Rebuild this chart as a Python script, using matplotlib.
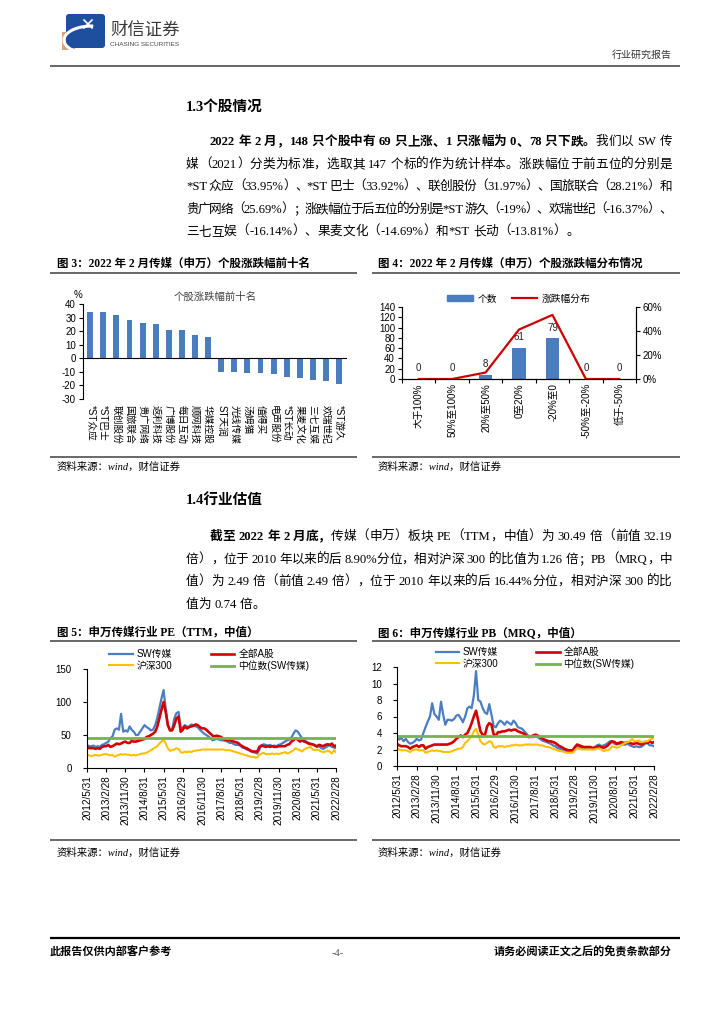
import re
import numpy as np
import pandas as pd
import matplotlib
matplotlib.use('Agg')
import matplotlib.pyplot as plt
from matplotlib.patches import Rectangle, FancyBboxPatch, Arc, Patch
from matplotlib.lines import Line2D
from matplotlib.ticker import PercentFormatter

W, H = 724, 1024
SERIF = ['Liberation Serif', 'Noto Sans CJK SC']
SANS = ['Liberation Sans', 'Noto Sans CJK SC']
plt.rcParams['font.family'] = SANS
plt.rcParams['axes.unicode_minus'] = False

# ---- 图3 个股涨跌幅 ----
stock_names = ['*ST众应', '*ST巴士', '联创股份', '国旅联合', '贵广网络', '返利科技', '广博股份',
               '每日互动', '顺网科技', '华媒控股', 'ST天润', '光线传媒', '汤姆猫', '值得买',
               '电声股份', '*ST长动', '果麦文化', '三七互娱', '欢瑞世纪', '*ST游久']
stock_chg = [33.95, 33.92, 31.97, 28.21, 25.69, 25.5, 20.6, 20.6, 17.2, 16.0,
             -10.3, -10.4, -10.8, -10.9, -11.8, -13.81, -14.69, -16.14, -16.37, -19.0]

# ---- 图4 涨跌幅分布 ----
dist_labels = ['大于100%', '50%至100%', '20%至50%', '0至20%', '-20%至0', '-50%至-20%', '低于-50%']
dist_count = [0, 0, 8, 61, 79, 0, 0]
dist_pct = [0.0, 0.0, 5.4, 41.2, 53.4, 0.0, 0.0]

# ---- 图5 PE(TTM) 月度, 2012/5 - 2022/2 ----
pe_sw = [35, 33, 33, 34, 32, 33, 32, 35,
         36, 38, 40, 45, 48, 58, 60, 58, 82, 55, 57, 55,
         63, 58, 55, 50, 50, 55, 60, 65, 62, 60, 57, 58,
         65, 75, 90, 105, 118, 90, 65, 57, 58, 75, 83, 85,
         58, 62, 65, 62, 63, 66, 65, 63, 62, 58, 55, 52,
         50, 48, 45, 42, 43, 44, 43, 42, 42, 41, 40, 38,
         38, 36, 35, 35, 34, 31, 30, 28, 27, 25, 24, 23,
         22, 28, 34, 36, 35, 34, 35, 33, 34, 33, 35, 36,
         38, 40, 42, 43, 46, 52, 57, 55, 50, 45, 43, 40,
         38, 37, 36, 35, 32, 33, 30, 29, 31, 33, 35, 32,
         31, 30]
pe_all = [32, 30, 30, 30, 29, 30, 29, 32,
          33, 33, 35, 32, 33, 35, 37, 36, 37, 39, 40, 38,
          38, 41, 40, 40, 41, 42, 43, 44, 47, 48, 50, 52,
          55, 62, 75, 88, 100, 85, 65, 57, 57, 65, 75, 78,
          55, 58, 63, 60, 62, 63, 64, 66, 65, 62, 60, 60,
          58, 55, 52, 49, 48, 49, 48, 47, 44, 43, 42, 42,
          41, 40, 39, 38, 35, 33, 31, 30, 28, 26, 25, 25,
          25, 32, 34, 33, 32, 33, 32, 33, 32, 32, 33, 33,
          33, 33, 35, 36, 40, 42, 45, 43, 40, 42, 40, 39,
          37, 36, 36, 34, 33, 35, 34, 33, 35, 36, 35, 37,
          33, 34]
pe_hs300 = [21, 19, 18, 19, 20, 19, 19, 20,
            21, 21, 20, 19, 20, 17, 19, 20, 21, 20, 21, 20,
            20, 19, 20, 19, 20, 21, 22, 22, 23, 25, 27, 29,
            31, 33, 37, 40, 43, 37, 30, 26, 27, 28, 30, 29,
            24, 23, 25, 24, 25, 24, 26, 26, 27, 27, 28, 28,
            28, 28, 28, 28, 28, 28, 28, 28, 28, 27, 27, 27,
            26, 25, 24, 23, 22, 21, 20, 19, 18, 17, 17, 16,
            16, 20, 22, 23, 21, 21, 21, 22, 21, 22, 21, 22,
            23, 24, 22, 23, 25, 27, 30, 28, 27, 25, 28, 30,
            31, 32, 28, 27, 28, 27, 25, 24, 25, 26, 25, 22,
            27, 24]
pe_median = 45.6

# ---- 图6 PB(MRQ) ----
pb_sw = [3.4, 3.2, 3.4, 3.0, 3.3, 2.9, 2.7, 2.8,
         3.0, 3.3, 3.1, 3.2, 4.0, 4.7, 5.4, 6.0, 7.6, 6.3, 6.0, 5.6,
         7.8, 6.3, 5.0, 5.6, 5.6, 5.5, 5.7, 6.1, 6.2, 5.8, 5.3, 6.0,
         7.0, 7.2, 7.0, 8.5, 11.5, 8.0, 7.8, 7.0, 6.5, 6.3, 7.5, 6.2,
         4.8, 4.7, 5.2, 5.5, 5.3, 5.0, 5.4, 5.2, 5.0, 5.5, 5.2, 4.7,
         4.6, 4.5, 4.2, 3.9, 3.6, 3.5, 3.5, 3.6, 3.5, 3.3, 3.1, 3.0,
         2.9, 2.8, 2.7, 2.5, 2.4, 2.2, 2.1, 2.0, 1.9, 1.8, 1.8, 1.7,
         1.7, 2.3, 2.4, 2.3, 2.2, 2.1, 2.2, 2.1, 2.1, 2.1, 2.3, 2.5,
         2.6, 2.4, 2.5, 2.6, 2.8, 3.0, 2.9, 2.7, 2.6, 2.7, 2.7, 2.6,
         2.6, 2.7, 2.5, 2.4, 2.3, 2.4, 2.3, 2.3, 2.5, 2.7, 2.8, 2.5,
         2.5, 2.4]
pb_all = [2.7, 2.5, 2.4, 2.4, 2.4, 2.3, 2.1, 2.3,
          2.4, 2.5, 2.3, 2.5, 2.5, 2.1, 2.3, 2.4, 2.5, 2.6, 2.6, 2.6,
          2.6, 2.6, 2.6, 2.6, 2.7, 2.8, 3.0, 3.3, 3.5, 3.7, 3.5, 3.8,
          4.0, 4.5, 5.2, 6.0, 6.7, 5.5, 4.2, 3.8, 3.7, 4.8, 5.2, 5.0,
          3.8, 3.7, 4.1, 4.1, 4.2, 4.2, 4.3, 4.4, 4.3, 4.4, 4.4, 4.2,
          4.1, 4.0, 3.9, 3.6, 3.5, 3.6, 3.7, 3.8, 3.7, 3.5, 3.4, 3.2,
          3.1, 3.0, 3.0, 2.9, 2.8, 2.6, 2.4, 2.3, 2.1, 2.0, 1.9, 1.9,
          1.9, 2.3, 2.6, 2.5, 2.4, 2.3, 2.3, 2.3, 2.3, 2.2, 2.2, 2.3,
          2.4, 2.3, 2.2, 2.3, 2.5, 2.8, 3.0, 2.9, 2.7, 2.8, 2.9, 2.8,
          2.8, 2.9, 2.8, 2.7, 2.7, 2.8, 2.7, 2.6, 2.7, 2.9, 2.8, 3.0,
          2.8, 2.9]
pb_hs300 = [2.2, 2.0, 1.9, 1.9, 1.9, 1.8, 1.7, 1.9,
            2.0, 2.0, 1.9, 1.9, 1.9, 1.6, 1.7, 1.8, 1.9, 1.8, 1.9, 1.8,
            1.8, 1.7, 1.7, 1.7, 1.7, 1.8, 1.9, 2.0, 2.1, 2.1, 2.3, 2.8,
            3.0, 3.3, 3.6, 4.2, 4.5, 3.8, 3.0, 2.7, 2.6, 2.8, 3.0, 2.9,
            2.3, 2.2, 2.4, 2.4, 2.4, 2.3, 2.4, 2.4, 2.5, 2.5, 2.6, 2.5,
            2.5, 2.5, 2.6, 2.6, 2.6, 2.6, 2.6, 2.6, 2.6, 2.5, 2.5, 2.4,
            2.3, 2.3, 2.2, 2.1, 2.0, 1.9, 1.8, 1.8, 1.7, 1.6, 1.6, 1.6,
            1.6, 1.9, 2.1, 2.1, 2.0, 2.0, 2.0, 2.0, 2.0, 2.0, 2.0, 2.1,
            2.1, 2.0, 1.8, 1.9, 1.9, 2.1, 2.4, 2.3, 2.2, 2.3, 2.5, 2.7,
            2.8, 2.9, 3.0, 3.3, 3.0, 3.0, 3.1, 2.9, 2.9, 3.0, 3.0, 3.2,
            3.3, 3.4]
pb_median = 3.6

months = pd.date_range('2012-05-01', '2022-02-01', freq='MS') + pd.offsets.MonthEnd(0)
tick_dates = months[::9]
tick_labels = [f'{d.year}/{d.month}/{d.day}' for d in tick_dates]

BAR_BLUE = '#4A7DBD'
C_SW = '#4A7EC2'
C_ALL = '#D40000'
C_HS = '#FFC000'
C_MED = '#78B24A'

fig = plt.figure(figsize=(W / 100, H / 100), dpi=100)
page = fig.add_axes([0, 0, 1, 1])
page.set_xlim(0, W)
page.set_ylim(H, 0)
page.axis('off')
renderer = fig.canvas.get_renderer()


def px_axes(left, top, right, bottom):
    return fig.add_axes([left / W, 1 - bottom / H, (right - left) / W, (bottom - top) / H])


def put(x, y, s, size, bold=False, ha='left', family=SERIF, **kw):
    return page.text(x, y, s, fontsize=size, fontweight='bold' if bold else 'normal',
                     ha=ha, va='baseline', family=family, **kw)


def para_line(x0, x1, y, segs, size=9.1, justify=True):
    toks = []
    for s, b in segs:
        for t in re.findall(r'[!-~]+| |[^ -~]', s):
            toks.append((t, b))
    arts = [put(0, y, t, size, bold=b) for t, b in toks]
    widths = [a.get_window_extent(renderer).width for a in arts]
    gap = (x1 - x0 - sum(widths)) / (len(arts) - 1) if justify else 0.0
    x = x0
    for a, w in zip(arts, widths):
        a.set_x(x)
        x += w + gap


def hline(x0, x1, y, color='#404040', lw=1.1):
    page.plot([x0, x1], [y, y], color=color, lw=lw, solid_capstyle='butt')


# ---- 页眉 ----
page.add_patch(Rectangle((62, 32), 13, 18, color='#D9A47E', lw=0))
page.add_patch(FancyBboxPatch((66, 14), 39, 34, boxstyle='round,pad=0,rounding_size=3',
                              color='#1D4F9E', lw=0))
page.add_patch(Arc((92, 40), 56, 28, theta1=95, theta2=275, color='white', lw=2.2))
page.plot([84, 92], [20, 28], color='white', lw=1.2)
page.plot([84, 92], [28, 20], color='white', lw=1.2)
put(110, 35, '财信证券', 12.5, family=['Noto Sans CJK SC'], color='#3A3A3A')
put(110, 46, 'CHASING SECURITIES', 4.6, family=['Liberation Sans'], color='#444444')
put(672, 58, '行业研究报告', 7.2, ha='right', color='#333333')
hline(50, 680, 66, color='#666666', lw=1.4)

# ---- 1.3 ----
put(186, 111, '1.3个股情况', 10.5, bold=True)
para_line(210, 672, 145, [('2022 年 2 月，148 只个股中有 69 只上涨、1 只涨幅为 0、78 只下跌。', True),
                          ('我们以 SW 传', False)])
para_line(186, 672, 168, [('媒（2021）分类为标准，选取其 147 个标的作为统计样本。涨跌幅位于前五位的分别是', False)])
para_line(186, 672, 190, [('*ST 众应（33.95%）、*ST 巴士（33.92%）、联创股份（31.97%）、国旅联合（28.21%）和', False)])
para_line(186, 672, 213, [('贵广网络（25.69%）；涨跌幅位于后五位的分别是*ST 游久（-19%）、欢瑞世纪（-16.37%）、', False)])
para_line(186, 672, 235, [('三七互娱（-16.14%）、果麦文化（-14.69%）和*ST 长动（-13.81%）。', False)], justify=False)

put(57, 267, '图 3：2022 年 2 月传媒（申万）个股涨跌幅前十名', 8.3, bold=True)
put(378, 267, '图 4：2022 年 2 月传媒（申万）个股涨跌幅分布情况', 8.3, bold=True)
hline(50, 357, 273)
hline(372, 680, 273)
hline(50, 357, 457)
hline(372, 680, 457)
put(57, 470, '资料来源：wind，财信证券', 7.5, style='italic')
put(378, 470, '资料来源：wind，财信证券', 7.5, style='italic')

# ---- 图3 ----
ax3 = px_axes(83, 304, 347, 399)
xs = np.arange(len(stock_names))
ax3.bar(xs, stock_chg, width=0.45, color=BAR_BLUE, zorder=2)
ax3.axhline(0, color='black', lw=0.8, zorder=3)
ax3.set_xlim(-0.55, len(xs) - 0.4)
ax3.set_ylim(-30, 40)
ax3.set_yticks(range(-30, 41, 10))
for s in ['top', 'right', 'bottom']:
    ax3.spines[s].set_visible(False)
ax3.spines['left'].set_linewidth(0.8)
ax3.set_xticks(xs)
ax3.set_xticklabels(stock_names, rotation=-90, fontsize=7)
ax3.tick_params(axis='x', length=0, pad=4)
ax3.tick_params(axis='y', labelsize=7, length=3, width=0.8, pad=2)
ax3.patch.set_alpha(0)
ax3.set_title('个股涨跌幅前十名', fontsize=7.5, color='#404040', pad=3)
put(74, 298, '%', 7, family=SANS)

# ---- 图4 ----
ax4 = px_axes(402, 307, 636, 379)
xc = np.arange(len(dist_labels))
bars = ax4.bar(xc, dist_count, width=0.4, color=BAR_BLUE, zorder=2)
for xi, v in zip(xc, dist_count):
    ax4.annotate(str(v), (xi, v), xytext=(0, 4), textcoords='offset points',
                 ha='center', va='bottom', fontsize=7, color='#222222')
ax4.set_xlim(-0.5, len(xc) - 0.5)
ax4.set_ylim(0, 140)
ax4.set_yticks(range(0, 141, 20))
ax4.set_xticks(xc)
ax4.set_xticklabels(dist_labels, rotation=90, fontsize=7)
ax4.set_xticks(np.arange(-0.5, len(xc), 1), minor=True)
ax4.tick_params(axis='x', which='major', length=0, pad=3)
ax4.tick_params(axis='x', which='minor', length=3, width=0.8)
ax4.tick_params(axis='y', labelsize=7, length=3, width=0.8, pad=2)
ax4r = ax4.twinx()
ax4r.plot(xc, [p / 100 for p in dist_pct], color='#CC0000', lw=1.6, zorder=4)
ax4r.set_ylim(0, 0.6)
ax4r.set_yticks([0, 0.2, 0.4, 0.6])
ax4r.yaxis.set_major_formatter(PercentFormatter(1.0, decimals=0))
ax4r.tick_params(axis='y', labelsize=7, length=3, width=0.8, pad=2)
for a in (ax4, ax4r):
    a.spines['top'].set_visible(False)
    for s in ['left', 'right', 'bottom']:
        a.spines[s].set_linewidth(0.8)
handles = [Patch(color=BAR_BLUE), Line2D([], [], color='#CC0000', lw=1.6)]
ax4.legend(handles, ['个数', '涨跌幅分布'], loc='lower center', bbox_to_anchor=(0.5, 0.98),
           ncol=2, frameon=False, fontsize=7, handlelength=2.6, handleheight=0.6,
           columnspacing=1.5, handletextpad=0.5, borderpad=0)

# ---- 1.4 ----
put(186, 504, '1.4行业估值', 10.5, bold=True)
para_line(210, 672, 540, [('截至 2022 年 2 月底，', True),
                          ('传媒（申万）板块 PE（TTM，中值）为 30.49 倍（前值 32.19', False)])
para_line(186, 672, 563, [('倍），位于 2010 年以来的后 8.90%分位，相对沪深 300 的比值为 1.26 倍；PB（MRQ，中', False)])
para_line(186, 672, 585, [('值）为 2.49 倍（前值 2.49 倍），位于 2010 年以来的后 16.44%分位，相对沪深 300 的比', False)])
para_line(186, 672, 608, [('值为 0.74 倍。', False)], justify=False)

put(57, 636, '图 5：申万传媒行业 PE（TTM，中值）', 8.3, bold=True)
put(378, 636, '图 6：申万传媒行业 PB（MRQ，中值）', 8.3, bold=True)
hline(50, 357, 641)
hline(372, 680, 641)
hline(50, 357, 840)
hline(372, 680, 840)
put(57, 856, '资料来源：wind，财信证券', 7.5, style='italic')
put(378, 856, '资料来源：wind，财信证券', 7.5, style='italic')


def line_chart(ax, sw, allA, hs, med, yticks, legend_x, colspace):
    l1, = ax.plot(months, sw, color=C_SW, lw=1.6)
    l2, = ax.plot(months, allA, color=C_ALL, lw=1.9)
    l3, = ax.plot(months, hs, color=C_HS, lw=1.5)
    l4 = ax.axhline(med, color=C_MED, lw=2.0)
    ax.set_xlim(months[0], months[-1])
    ax.set_ylim(yticks[0], yticks[-1])
    ax.set_yticks(yticks)
    ax.set_xticks(tick_dates)
    ax.set_xticklabels(tick_labels, rotation=90, fontsize=7.2)
    for s in ['top', 'right']:
        ax.spines[s].set_visible(False)
    for s in ['left', 'bottom']:
        ax.spines[s].set_linewidth(0.8)
    ax.tick_params(axis='y', labelsize=7, length=3, width=0.8, pad=8)
    ax.tick_params(axis='x', length=3, width=0.8, pad=2)
    ax.patch.set_alpha(0)
    ax.legend([l1, l3, l2, l4], ['SW传媒', '沪深300', '全部A股', '中位数(SW传媒)'],
              loc='upper left', bbox_to_anchor=(legend_x, 1.2), ncol=2, frameon=False,
              fontsize=7, handlelength=2.4, labelspacing=0.15, columnspacing=colspace,
              handletextpad=0.4, borderpad=0, borderaxespad=0)


ax5 = px_axes(87, 669, 336, 768)
line_chart(ax5, pe_sw, pe_all, pe_hs300, pe_median, [0, 50, 100, 150], 0.09, 4.0)
ax6 = px_axes(397, 667, 654, 766)
line_chart(ax6, pb_sw, pb_all, pb_hs300, pb_median, [0, 2, 4, 6, 8, 10, 12], 0.15, 3.9)

# ---- 页脚 ----
hline(50, 680, 938, color='black', lw=1.6)
put(50, 956, '此报告仅供内部客户参考', 8, bold=True)
put(338, 956, '-4-', 7.5, ha='center', color='#555555')
put(672, 956, '请务必阅读正文之后的免责条款部分', 8, bold=True, ha='right')

fig.savefig('out.png', dpi=100)
